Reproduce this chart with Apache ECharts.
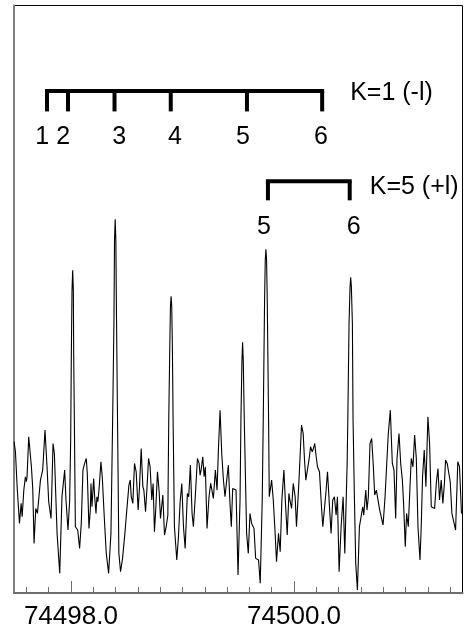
<!DOCTYPE html>
<html>
<head>
<meta charset="utf-8">
<script src="https://cdn.jsdelivr.net/npm/echarts@6/dist/echarts.min.js"></script>
<style>
  html, body { margin: 0; padding: 0; background: #fff; }
  #chart { width: 472px; height: 633px; }
</style>
</head>
<body>
<div id="chart"></div>
<script>
// Spectrum: frequency (MHz) and intensity (arbitrary units)
const freqMHz = [
  74497.491, 74497.503, 74497.518, 74497.539, 74497.554, 74497.563, 74497.578, 74497.592, 74497.601, 74497.607,
  74497.622, 74497.631, 74497.646, 74497.658, 74497.670, 74497.685, 74497.700, 74497.727, 74497.747, 74497.768,
  74497.786, 74497.801, 74497.810, 74497.822, 74497.840, 74497.852, 74497.876, 74497.900, 74497.920, 74497.944,
  74497.956, 74497.974, 74497.989, 74497.998, 74498.004, 74498.010, 74498.016, 74498.022, 74498.025, 74498.031,
  74498.040, 74498.061, 74498.078, 74498.093, 74498.108, 74498.123, 74498.138, 74498.147, 74498.162, 74498.174,
  74498.180, 74498.189, 74498.204, 74498.213, 74498.225, 74498.233, 74498.242, 74498.254, 74498.269, 74498.281,
  74498.299, 74498.317, 74498.338, 74498.359, 74498.374, 74498.386, 74498.391, 74498.397, 74498.403, 74498.409,
  74498.418, 74498.430, 74498.445, 74498.463, 74498.484, 74498.496, 74498.511, 74498.520, 74498.532, 74498.541,
  74498.555, 74498.570, 74498.585, 74498.603, 74498.615, 74498.630, 74498.645, 74498.654, 74498.669, 74498.681,
  74498.696, 74498.710, 74498.725, 74498.737, 74498.749, 74498.761, 74498.776, 74498.791, 74498.803, 74498.824,
  74498.839, 74498.854, 74498.869, 74498.877, 74498.886, 74498.892, 74498.898, 74498.904, 74498.910, 74498.916,
  74498.928, 74498.949, 74498.964, 74498.979, 74498.994, 74499.009, 74499.024, 74499.044, 74499.056, 74499.071,
  74499.086, 74499.098, 74499.113, 74499.134, 74499.149, 74499.158, 74499.167, 74499.182, 74499.194, 74499.205,
  74499.220, 74499.238, 74499.253, 74499.277, 74499.295, 74499.310, 74499.322, 74499.337, 74499.352, 74499.366,
  74499.381, 74499.411, 74499.426, 74499.438, 74499.450, 74499.465, 74499.480, 74499.498, 74499.516, 74499.524,
  74499.533, 74499.539, 74499.545, 74499.554, 74499.575, 74499.590, 74499.605, 74499.620, 74499.641, 74499.656,
  74499.671, 74499.682, 74499.697, 74499.715, 74499.724, 74499.736, 74499.742, 74499.748, 74499.754, 74499.760,
  74499.772, 74499.778, 74499.799, 74499.814, 74499.829, 74499.843, 74499.861, 74499.876, 74499.891, 74499.909,
  74499.924, 74499.939, 74499.954, 74499.963, 74499.978, 74499.993, 74500.010, 74500.022, 74500.043, 74500.067,
  74500.082, 74500.094, 74500.106, 74500.121, 74500.136, 74500.148, 74500.163, 74500.174, 74500.186, 74500.195,
  74500.210, 74500.228, 74500.246, 74500.258, 74500.285, 74500.300, 74500.321, 74500.332, 74500.347, 74500.362,
  74500.377, 74500.389, 74500.404, 74500.422, 74500.440, 74500.455, 74500.476, 74500.482, 74500.493, 74500.502,
  74500.508, 74500.514, 74500.523, 74500.529, 74500.541, 74500.553, 74500.568, 74500.586, 74500.601, 74500.616,
  74500.625, 74500.643, 74500.654, 74500.666, 74500.681, 74500.696, 74500.711, 74500.723, 74500.738, 74500.753,
  74500.768, 74500.783, 74500.798, 74500.815, 74500.827, 74500.845, 74500.863, 74500.881, 74500.896, 74500.911,
  74500.923, 74500.941, 74500.956, 74500.971, 74500.982, 74500.997, 74501.009, 74501.024, 74501.042, 74501.051,
  74501.066, 74501.081, 74501.096, 74501.111, 74501.129, 74501.140, 74501.152, 74501.167, 74501.182, 74501.200,
  74501.215, 74501.230, 74501.245, 74501.260, 74501.275, 74501.290, 74501.304, 74501.319, 74501.334, 74501.349,
  74501.358, 74501.373, 74501.388, 74501.400, 74501.415, 74501.430, 74501.448, 74501.468, 74501.483, 74501.501
];
const intensity = [
  1.75, 1.45, 0.40, -0.70, -0.10, -0.50, 0.30, 0.70, 0.55, 0.70,
  1.90, 1.95, 1.00, 0.35, -1.30, -0.25, -0.40, 0.60, 0.90, 2.10,
  1.00, -0.05, -0.10, -0.55, 1.70, 1.40, -1.00, -2.20, 0.10, 0.90,
  0.00, -0.90, 0.00, 1.80, 4.40, 6.30, 6.90, 6.30, 4.40, 2.40,
  -0.80, -0.90, -1.45, -0.70, 0.90, 1.10, 1.25, 0.80, -0.85, -0.30,
  0.50, -0.20, 0.65, 0.10, -0.40, 0.10, -0.05, 0.40, 1.15, 0.70,
  -0.50, -1.60, -2.20, -1.00, 2.40, 5.40, 7.80, 8.43, 7.80, 5.40,
  2.40, -1.60, -2.15, -1.75, -1.00, -0.50, -0.55, 0.45, 0.60, 0.10,
  -0.10, 1.10, 0.85, -0.30, 0.40, 1.55, 0.40, 0.30, -0.35, 0.30,
  1.25, 1.00, 0.00, 0.50, -0.95, -0.25, 0.85, 0.25, -0.55, 0.15,
  -1.05, -0.80, -0.45, 2.40, 4.50, 5.80, 6.12, 5.80, 4.50, 2.40,
  -0.80, -1.80, -1.10, -0.05, 0.50, -0.80, -1.45, 0.20, 0.10, 1.05,
  -0.40, -0.80, 0.00, 1.25, 1.10, 0.75, 0.90, 1.30, 0.70, 1.00,
  -0.85, 0.10, 0.50, 0.05, 0.90, 0.30, 1.50, 2.70, 1.40, 0.65,
  0.10, 1.05, -0.10, -0.80, 0.35, 0.30, 0.30, -2.25, 0.00, 2.40,
  4.20, 4.74, 4.20, 2.40, -1.00, -1.60, -0.40, -0.70, -0.85, -1.75,
  -1.80, -1.80, -2.50, 0.00, 2.40, 6.00, 7.20, 7.53, 7.20, 6.00,
  2.40, 0.10, 0.60, 0.00, -0.90, -1.85, -1.00, -1.55, 0.00, 0.90,
  -0.15, -1.05, 0.20, 0.00, -0.25, 0.50, 0.10, -0.80, 0.50, 2.25,
  2.00, 1.20, 0.60, 0.55, 1.25, 1.60, 1.45, 1.55, 1.70, 1.40,
  1.00, 0.85, -0.20, -0.80, 0.20, 0.85, -0.40, -1.00, 0.00, 0.10,
  -0.45, 0.10, -2.15, -0.80, 0.10, -1.60, 1.10, 2.40, 5.30, 6.40,
  6.69, 6.40, 5.30, 2.40, 0.10, -1.90, -2.70, -0.80, -0.50, -0.20,
  -0.45, 0.30, -0.30, 0.10, 1.70, 1.85, 1.00, 0.15, 0.30, 0.00,
  -0.30, -0.25, -0.75, 0.05, 0.10, 2.00, 2.70, 1.10, 0.90, -0.55,
  1.25, 2.00, 1.10, 0.60, -0.10, -1.40, -0.40, -0.80, 0.60, 1.25,
  1.00, 1.95, 1.25, -0.80, -1.80, -0.80, 0.70, 1.50, 0.40, 2.50,
  1.70, -0.20, -0.20, -0.25, 0.50, 0.95, 0.00, 0.60, -0.10, 0.55,
  1.20, 1.10, 1.15, 0.55, -0.40, -0.45, -0.90, 1.15, 1.00, -0.40
];

// Assignment ladders: transition frequencies (MHz) and their J labels
const k1Freq = [74497.786, 74497.974, 74498.391, 74498.895, 74499.578, 74500.252];
const k1J = ['1', '2', '3', '4', '5', '6'];
const k1Name = 'K=1 (-l)';
const k5Freq = [74499.766, 74500.499];
const k5J = ['5', '6'];
const k5Name = 'K=5 (+l)';

// Axis ticks (MHz)
const labelTicks = [74498.0, 74500.0];
const minorTicks = [74497.6, 74497.8, 74498.2, 74498.4, 74498.6, 74498.8, 74499.0, 74499.2,
  74499.4, 74499.6, 74499.8, 74500.2, 74500.4, 74500.6, 74500.8, 74501.0, 74501.2, 74501.4];

const X_MIN = 74497.49, X_MAX = 74501.51;
const Y_MIN = -2.79, Y_MAX = 14.85;
const FONT = '"Liberation Sans", Arial, Helvetica, sans-serif';

// Ladder drawing: bar level, tick foot, label level (intensity units) and label nudges (px)
function ladder(freqs, jLabels, name, cfg) {
  const last = freqs.length - 1;
  return {
    type: 'custom',
    xAxisIndex: 0,
    yAxisIndex: 0,
    silent: true,
    animation: false,
    clip: false,
    z: 5,
    data: freqs.map((f, i) => [f, i]),
    encode: { x: 0 },
    renderItem(params, api) {
      const f = api.value(0);
      const i = api.value(1);
      const top = api.coord([f, cfg.barY]);
      const foot = api.coord([f, cfg.footY]);
      const lab = api.coord([f, cfg.labelY]);
      const children = [
        { type: 'line', shape: { x1: top[0], y1: top[1], x2: foot[0], y2: foot[1] },
          style: { stroke: '#000', lineWidth: 4 } },
        { type: 'text', x: lab[0] + cfg.nudge[i], y: lab[1],
          style: { text: jLabels[i], fill: '#000', fontSize: cfg.numSize, fontFamily: FONT,
                   align: 'center', verticalAlign: 'middle' } }
      ];
      if (i === 0) {
        const end = api.coord([freqs[last], cfg.barY]);
        children.push({ type: 'line',
          shape: { x1: top[0] - 2, y1: top[1], x2: end[0] + 2, y2: end[1] },
          style: { stroke: '#000', lineWidth: 4 } });
        const nm = api.coord([freqs[last], cfg.nameY]);
        children.push({ type: 'text', x: nm[0] + cfg.nameGap, y: nm[1],
          style: { text: name, fill: '#000', fontSize: cfg.nameSize, fontFamily: FONT,
                   align: 'left', verticalAlign: 'middle' } });
      }
      return { type: 'group', children };
    }
  };
}

const chart = echarts.init(document.getElementById('chart'), null, { renderer: 'canvas' });

chart.setOption({
  animation: false,
  backgroundColor: '#fff',
  // Frame: dark top/right border from the grid, grey left/bottom axis lines drawn over it
  grid: { left: 14, right: 9.5, top: 5.5, bottom: 40, show: true,
          borderColor: '#000', borderWidth: 1, backgroundColor: 'transparent' },
  xAxis: [
    { // minor ticks
      type: 'value', min: X_MIN, max: X_MAX, position: 'bottom',
      axisLine: { show: true, onZero: false, lineStyle: { color: '#6e6e6e', width: 2 } },
      axisTick: { show: true, inside: true, length: 6, customValues: minorTicks,
                  lineStyle: { color: '#6e6e6e', width: 1 } },
      axisLabel: { show: false },
      splitLine: { show: false }
    },
    { // labelled ticks
      type: 'value', min: X_MIN, max: X_MAX, position: 'bottom',
      axisLine: { show: false, onZero: false },
      axisTick: { show: true, inside: true, length: 12, customValues: labelTicks,
                  lineStyle: { color: '#6e6e6e', width: 1 } },
      axisLabel: { show: true, customValues: labelTicks, margin: 11,
                   formatter: v => v.toFixed(1),
                   color: '#000', fontSize: 26, fontFamily: FONT },
      splitLine: { show: false }
    }
  ],
  yAxis: [
    {
      type: 'value', min: Y_MIN, max: Y_MAX, position: 'left',
      axisLine: { show: true, onZero: false, lineStyle: { color: '#808080', width: 2 } },
      axisTick: { show: false }, axisLabel: { show: false }, splitLine: { show: false }
    }
  ],
  series: [
    {
      type: 'line',
      xAxisIndex: 0, yAxisIndex: 0,
      data: freqMHz.map((f, i) => [f, intensity[i]]),
      showSymbol: false,
      symbol: 'none',
      smooth: false,
      lineStyle: { color: '#000', width: 1.1 },
      silent: true,
      z: 3
    },
    ladder(k1Freq, k1J, k1Name, {
      barY: 12.285, footY: 11.67, labelY: 10.89, nameY: 12.22, nameGap: 28,
      numSize: 25, nameSize: 25, nudge: [-4.7, -4.7, 4.7, 4.3, -4, -1.3]
    }),
    ladder(k5Freq, k5J, k5Name, {
      barY: 9.57, footY: 9.0, labelY: 8.19, nameY: 9.39, nameGap: 20,
      numSize: 25, nameSize: 25, nudge: [-4, 4]
    })
  ]
});
</script>
</body>
</html>
